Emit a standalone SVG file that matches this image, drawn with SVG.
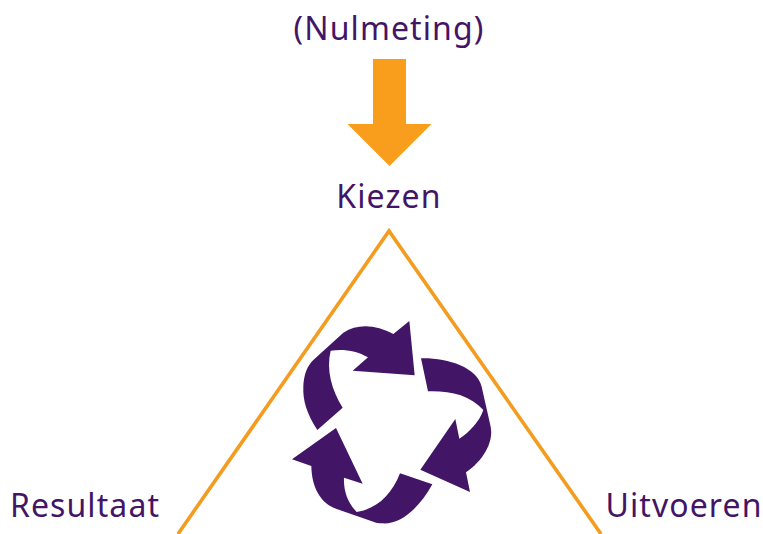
<svg xmlns="http://www.w3.org/2000/svg" width="763" height="534" viewBox="0 0 763 534">
<style>
.t{font-family:"Noto Sans","Liberation Sans",sans-serif;font-size:32px;fill:#431566;letter-spacing:1.1px}
.c{fill:#431566}
</style>
<rect width="763" height="534" fill="#fff"/>
<g id="connectors">
<path id="start-arrow" d="M373 59H406V124H431.500L389.500 166L347.500 124H373Z" fill="#f99d1c"/>
<path id="triangle" d="M178 534L389 231L601 534" fill="none" stroke="#f39c1f" stroke-width="3.600"/>
</g>
<g id="cycle" transform="translate(280 310) scale(.33333)">
<path class="c" d="M388 33L404 196L218 182L264 142C230 122 190 116 152 122C138 180 155 240 188 293L112 360C80 310 68 270 70 230C71 195 82 167 100 150L190 68C235 38 290 45 340 72Z"/>
<path class="c" d="M423 145C500 143 590 170 605 230L632 350C642 400 605 455 558 487L570 546L421 479L526 327L538 386C570 365 598 335 610 300C570 255 510 242 444 244Z"/>
<path class="c" d="M168 354L248 521L192 503C190 545 205 580 230 606C290 597 335 555 360 490L457 523C420 590 365 645 305 640C295 640 288 638 280 635L170 597C120 580 95 530 94 468L36 448Z"/>
</g>
<g id="node-nulmeting"><text class="t" x="389" y="40" text-anchor="middle">(Nulmeting)</text></g>
<g id="node-kiezen"><text class="t" x="389" y="208" text-anchor="middle">Kiezen</text></g>
<g id="node-resultaat"><text class="t" x="85" y="517" text-anchor="middle">Resultaat</text></g>
<g id="node-uitvoeren"><text class="t" x="684" y="517" text-anchor="middle">Uitvoeren</text></g>
</svg>
